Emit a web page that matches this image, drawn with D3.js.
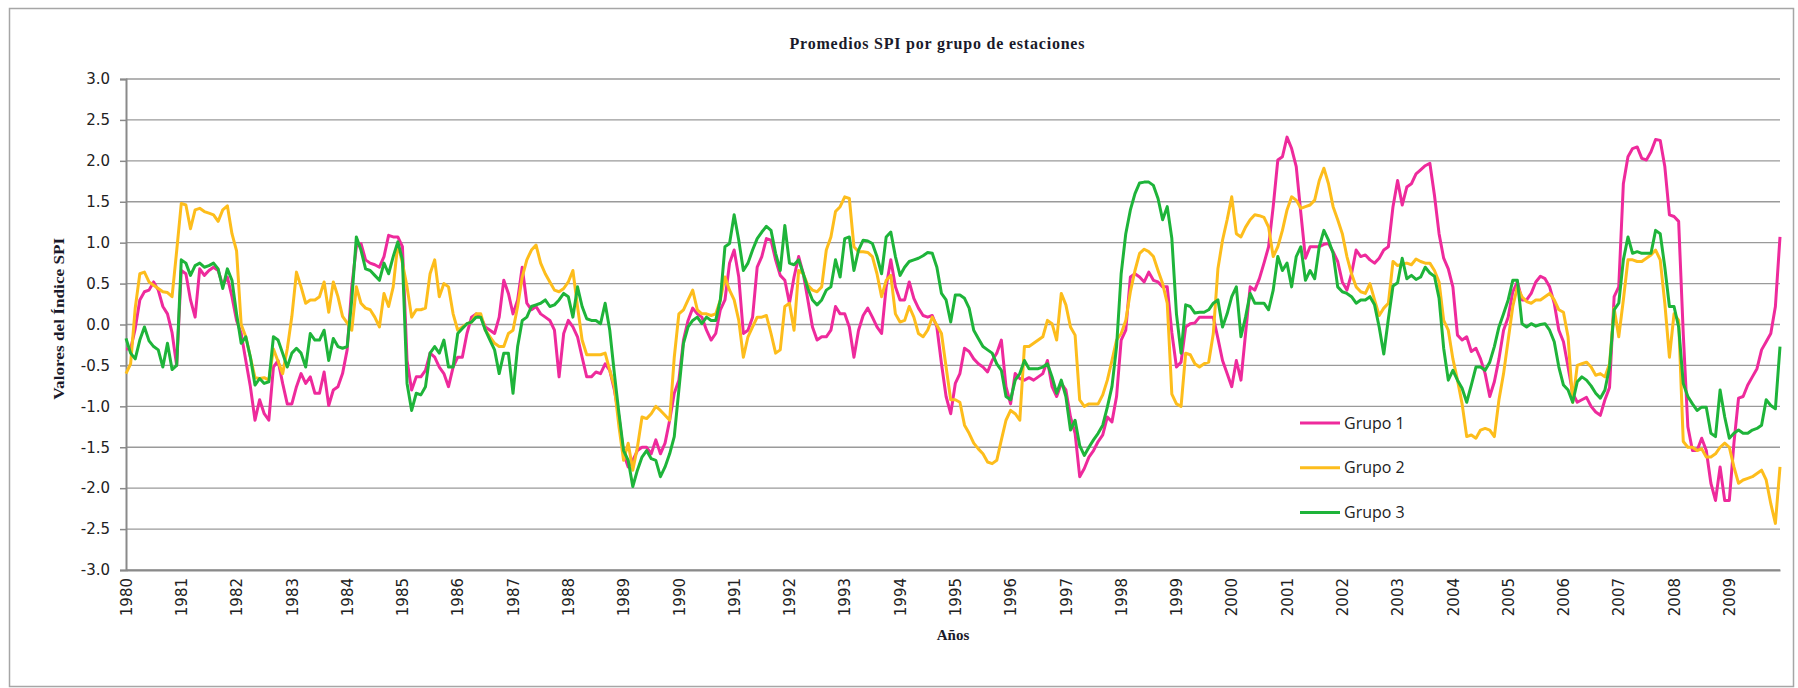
<!DOCTYPE html>
<html>
<head>
<meta charset="utf-8">
<script src="https://cdn.jsdelivr.net/npm/d3@7"></script>
<style>
  body { margin: 0; background: #ffffff; }
  #chart { width: 1798px; height: 688px; }
</style>
</head>
<body>
<div id="chart"></div>
<script>

// monthly SPI means, Jan 1980 .. Dec 2009 (one row per year)
var grupo1 = [
  -0.30, -0.30, -0.05, 0.30, 0.40, 0.42, 0.52, 0.42, 0.22, 0.13, -0.10, -0.50,
  0.66, 0.62, 0.30, 0.09, 0.68, 0.60, 0.66, 0.70, 0.66, 0.48, 0.58, 0.34,
  0.05, -0.11, -0.44, -0.76, -1.17, -0.92, -1.09, -1.17, -0.52, -0.44, -0.72, -0.97,
  -0.97, -0.76, -0.60, -0.72, -0.64, -0.84, -0.84, -0.58, -0.99, -0.80, -0.76, -0.60,
  -0.31, 0.46, 0.95, 0.99, 0.79, 0.75, 0.73, 0.70, 0.83, 1.09, 1.07, 1.07,
  0.95, -0.44, -0.80, -0.64, -0.64, -0.56, -0.35, -0.40, -0.52, -0.60, -0.76, -0.52,
  -0.40, -0.40, -0.11, 0.09, 0.13, 0.09, -0.03, -0.07, -0.11, 0.09, 0.54, 0.38,
  0.13, 0.30, 0.70, 0.26, 0.18, 0.22, 0.13, 0.09, 0.05, -0.07, -0.64, -0.11,
  0.05, -0.03, -0.15, -0.40, -0.64, -0.64, -0.58, -0.60, -0.48, -0.56, -0.80, -1.13,
  -1.58, -1.74, -1.66, -1.54, -1.50, -1.50, -1.58, -1.41, -1.58, -1.45, -1.17, -0.84,
  -0.68, -0.19, 0.05, 0.20, 0.13, 0.09, -0.07, -0.19, -0.11, 0.18, 0.30, 0.75,
  0.91, 0.58, -0.11, -0.07, 0.09, 0.70, 0.83, 1.05, 1.03, 0.79, 0.60, 0.54,
  0.26, 0.58, 0.83, 0.62, 0.30, -0.03, -0.19, -0.15, -0.15, -0.07, 0.22, 0.13,
  0.13, -0.03, -0.40, -0.07, 0.11, 0.20, 0.09, -0.03, -0.11, 0.46, 0.79, 0.46,
  0.30, 0.30, 0.52, 0.32, 0.20, 0.11, 0.09, 0.11, -0.03, -0.48, -0.88, -1.09,
  -0.72, -0.60, -0.29, -0.33, -0.42, -0.48, -0.52, -0.58, -0.44, -0.35, -0.19, -0.76,
  -0.97, -0.60, -0.66, -0.68, -0.65, -0.68, -0.64, -0.60, -0.44, -0.76, -0.88, -0.72,
  -0.80, -1.13, -1.33, -1.86, -1.76, -1.62, -1.54, -1.43, -1.35, -1.13, -1.19, -0.88,
  -0.19, -0.07, 0.58, 0.62, 0.58, 0.52, 0.64, 0.54, 0.52, 0.46, 0.46, -0.10,
  -0.52, -0.46, -0.03, 0.01, 0.02, 0.09, 0.09, 0.09, 0.09, -0.17, -0.44, -0.60,
  -0.76, -0.44, -0.68, -0.11, 0.46, 0.42, 0.56, 0.75, 0.95, 1.44, 2.01, 2.05,
  2.29, 2.15, 1.93, 1.36, 0.81, 0.95, 0.95, 0.95, 0.98, 0.99, 0.89, 0.77,
  0.52, 0.42, 0.62, 0.91, 0.83, 0.85, 0.79, 0.75, 0.81, 0.91, 0.95, 1.44,
  1.76, 1.46, 1.68, 1.72, 1.84, 1.89, 1.94, 1.97, 1.58, 1.11, 0.81, 0.68,
  0.46, -0.13, -0.19, -0.15, -0.33, -0.29, -0.42, -0.60, -0.88, -0.70, -0.42, -0.07,
  0.09, 0.40, 0.52, 0.30, 0.30, 0.38, 0.52, 0.59, 0.56, 0.46, 0.26, -0.07,
  -0.21, -0.52, -0.84, -0.95, -0.92, -0.89, -1.00, -1.07, -1.11, -0.92, -0.77, 0.34,
  0.46, 1.72, 2.05, 2.15, 2.17, 2.03, 2.01, 2.11, 2.26, 2.25, 1.93, 1.34,
  1.32, 1.26, -0.11, -1.25, -1.54, -1.54, -1.39, -1.54, -1.94, -2.15, -1.74, -2.15,
  -2.15, -1.45, -0.90, -0.88, -0.74, -0.64, -0.54, -0.31, -0.21, -0.11, 0.22, 1.07
];

var grupo2 = [
  -0.60, -0.48, 0.20, 0.62, 0.64, 0.52, 0.48, 0.44, 0.40, 0.39, 0.34, 0.90,
  1.48, 1.46, 1.17, 1.40, 1.42, 1.38, 1.36, 1.34, 1.26, 1.40, 1.45, 1.11,
  0.90, 0.00, -0.15, -0.40, -0.65, -0.66, -0.65, -0.68, -0.30, -0.45, -0.60, -0.30,
  0.10, 0.64, 0.46, 0.26, 0.30, 0.30, 0.34, 0.52, 0.15, 0.52, 0.34, 0.10,
  0.02, -0.07, 0.46, 0.26, 0.20, 0.18, 0.09, -0.03, 0.38, 0.22, 0.46, 0.99,
  0.75, 0.46, 0.09, 0.18, 0.18, 0.20, 0.62, 0.79, 0.34, 0.50, 0.46, 0.13,
  -0.07, -0.03, 0.01, 0.03, 0.13, 0.13, -0.07, -0.15, -0.23, -0.27, -0.27, -0.11,
  -0.07, 0.22, 0.58, 0.79, 0.91, 0.97, 0.75, 0.62, 0.52, 0.42, 0.40, 0.44,
  0.52, 0.66, 0.22, -0.19, -0.37, -0.37, -0.37, -0.37, -0.35, -0.56, -0.76, -1.25,
  -1.66, -1.45, -1.78, -1.50, -1.13, -1.15, -1.09, -1.00, -1.05, -1.11, -1.17, -0.40,
  0.13, 0.18, 0.30, 0.42, 0.18, 0.13, 0.13, 0.11, 0.13, 0.30, 0.58, 0.42,
  0.30, 0.05, -0.40, -0.15, -0.03, 0.09, 0.09, 0.11, -0.11, -0.35, -0.31, 0.22,
  0.26, -0.07, 0.66, 0.62, 0.48, 0.42, 0.40, 0.46, 0.91, 1.07, 1.38, 1.44,
  1.56, 1.54, 0.95, 0.89, 0.89, 0.88, 0.83, 0.62, 0.34, 0.54, 0.60, 0.13,
  0.03, 0.05, 0.22, 0.09, -0.11, -0.15, -0.07, 0.09, -0.01, -0.11, -0.52, -0.92,
  -0.92, -0.95, -1.23, -1.33, -1.45, -1.52, -1.58, -1.68, -1.70, -1.66, -1.41, -1.17,
  -1.05, -1.09, -1.17, -0.27, -0.27, -0.23, -0.19, -0.15, 0.05, 0.01, -0.19, 0.38,
  0.24, -0.03, -0.13, -0.92, -1.00, -0.97, -0.97, -0.97, -0.86, -0.68, -0.44, -0.19,
  -0.11, 0.05, 0.40, 0.66, 0.87, 0.92, 0.89, 0.83, 0.66, 0.50, 0.26, -0.85,
  -0.97, -1.00, -0.35, -0.37, -0.48, -0.52, -0.48, -0.46, -0.11, 0.68, 1.03, 1.28,
  1.56, 1.11, 1.07, 1.19, 1.28, 1.34, 1.33, 1.31, 1.19, 0.83, 0.95, 1.15,
  1.40, 1.56, 1.52, 1.42, 1.44, 1.46, 1.52, 1.76, 1.91, 1.72, 1.44, 1.28,
  1.11, 0.83, 0.62, 0.46, 0.40, 0.38, 0.50, 0.30, 0.11, 0.20, 0.26, 0.77,
  0.72, 0.74, 0.75, 0.73, 0.80, 0.77, 0.75, 0.75, 0.66, 0.52, 0.05, -0.07,
  -0.42, -0.68, -0.97, -1.37, -1.35, -1.39, -1.29, -1.27, -1.29, -1.37, -0.92, -0.60,
  -0.19, 0.22, 0.46, 0.34, 0.28, 0.26, 0.30, 0.30, 0.34, 0.38, 0.30, 0.18,
  0.15, -0.15, -0.95, -0.50, -0.48, -0.46, -0.52, -0.62, -0.60, -0.64, -0.48, 0.20,
  -0.15, 0.30, 0.79, 0.79, 0.77, 0.77, 0.81, 0.85, 0.91, 0.79, 0.26, -0.40,
  0.13, 0.05, -1.43, -1.50, -1.50, -1.54, -1.52, -1.62, -1.62, -1.58, -1.50, -1.45,
  -1.50, -1.74, -1.94, -1.90, -1.88, -1.86, -1.82, -1.78, -1.90, -2.19, -2.43, -1.74
];

var grupo3 = [
  -0.17, -0.35, -0.42, -0.19, -0.03, -0.20, -0.27, -0.31, -0.52, -0.23, -0.55, -0.50,
  0.79, 0.75, 0.60, 0.72, 0.75, 0.70, 0.72, 0.75, 0.68, 0.44, 0.68, 0.54,
  0.13, -0.23, -0.15, -0.40, -0.74, -0.66, -0.72, -0.70, -0.15, -0.19, -0.35, -0.52,
  -0.35, -0.29, -0.35, -0.52, -0.11, -0.19, -0.19, -0.07, -0.44, -0.17, -0.27, -0.29,
  -0.27, 0.30, 1.07, 0.91, 0.68, 0.66, 0.60, 0.54, 0.75, 0.62, 0.83, 1.01,
  0.79, -0.72, -1.05, -0.84, -0.86, -0.76, -0.35, -0.27, -0.35, -0.19, -0.52, -0.52,
  -0.11, -0.05, 0.01, 0.03, 0.09, 0.09, -0.07, -0.19, -0.31, -0.60, -0.35, -0.35,
  -0.84, -0.27, 0.05, 0.09, 0.22, 0.24, 0.26, 0.30, 0.22, 0.24, 0.30, 0.38,
  0.34, 0.09, 0.46, 0.22, 0.07, 0.05, 0.05, 0.01, 0.26, -0.07, -0.60, -1.09,
  -1.54, -1.66, -1.98, -1.78, -1.62, -1.54, -1.64, -1.66, -1.86, -1.74, -1.58, -1.37,
  -0.80, -0.23, -0.03, 0.05, 0.09, 0.01, 0.09, 0.05, 0.05, 0.30, 0.95, 0.99,
  1.34, 1.03, 0.66, 0.75, 0.91, 1.05, 1.13, 1.20, 1.15, 0.87, 0.66, 1.21,
  0.75, 0.73, 0.79, 0.62, 0.44, 0.30, 0.24, 0.30, 0.42, 0.46, 0.79, 0.58,
  1.05, 1.07, 0.66, 0.91, 1.03, 1.02, 0.99, 0.83, 0.62, 1.07, 1.13, 0.83,
  0.60, 0.70, 0.77, 0.79, 0.81, 0.84, 0.88, 0.87, 0.70, 0.38, 0.30, 0.03,
  0.36, 0.36, 0.32, 0.20, -0.07, -0.17, -0.27, -0.31, -0.35, -0.48, -0.56, -0.88,
  -0.92, -0.68, -0.60, -0.44, -0.54, -0.54, -0.54, -0.52, -0.48, -0.64, -0.84, -0.68,
  -0.88, -1.29, -1.17, -1.48, -1.60, -1.50, -1.41, -1.33, -1.23, -1.01, -0.76, -0.27,
  0.62, 1.11, 1.40, 1.60, 1.73, 1.74, 1.74, 1.70, 1.54, 1.28, 1.44, 1.05,
  0.13, -0.35, 0.24, 0.22, 0.14, 0.15, 0.15, 0.18, 0.26, 0.30, -0.03, 0.13,
  0.34, 0.46, -0.15, 0.09, 0.38, 0.26, 0.26, 0.26, 0.18, 0.42, 0.83, 0.66,
  0.75, 0.46, 0.83, 0.95, 0.54, 0.66, 0.56, 0.95, 1.15, 1.03, 0.87, 0.46,
  0.40, 0.38, 0.34, 0.26, 0.30, 0.30, 0.34, 0.24, -0.03, -0.36, 0.07, 0.47,
  0.51, 0.81, 0.56, 0.60, 0.55, 0.58, 0.70, 0.63, 0.59, 0.32, -0.29, -0.68,
  -0.56, -0.68, -0.78, -0.95, -0.74, -0.52, -0.52, -0.56, -0.46, -0.27, -0.03, 0.13,
  0.30, 0.54, 0.54, 0.01, -0.03, 0.01, -0.02, 0.00, 0.01, -0.07, -0.21, -0.52,
  -0.74, -0.80, -0.95, -0.70, -0.64, -0.68, -0.75, -0.84, -0.90, -0.80, -0.52, 0.18,
  0.26, 0.79, 1.07, 0.87, 0.89, 0.87, 0.87, 0.87, 1.15, 1.11, 0.70, 0.22,
  0.22, -0.03, -0.72, -0.88, -0.97, -1.05, -1.01, -1.01, -1.33, -1.37, -0.80, -1.13,
  -1.39, -1.33, -1.29, -1.33, -1.33, -1.29, -1.27, -1.23, -0.92, -0.99, -1.03, -0.27
];

var years = d3.range(1980, 2010);
var yTicks = d3.range(-3, 3.01, 0.5);

var series = [
    { name: "Grupo 1", values: grupo1, color: "#ee2a9c" },
    { name: "Grupo 2", values: grupo2, color: "#fdbd1c" },
    { name: "Grupo 3", values: grupo3, color: "#1eb43a" }
];

var W = 1798, H = 688;
var margin = { left: 126, right: 18, top: 79, bottom: 118 };

var svg = d3.select("#chart")
    .append("svg")
    .attr("width", W)
    .attr("height", H);

// chart frame
svg.append("rect")
    .attr("x", 9.5).attr("y", 8.5)
    .attr("width", W - 14).attr("height", H - 10)
    .attr("fill", "#fff")
    .attr("stroke", "#a6a6a6")
    .attr("stroke-width", 1.5);

var x = d3.scaleLinear()
    .domain([0, grupo1.length - 1])
    .range([margin.left, W - margin.right]);

var y = d3.scaleLinear()
    .domain([-3, 3])
    .range([H - margin.bottom, margin.top]);

// horizontal gridlines
svg.append("g")
    .selectAll("line")
    .data(yTicks)
    .enter()
    .append("line")
    .attr("x1", x(0)).attr("x2", x(grupo1.length - 1))
    .attr("y1", function (d) { return y(d); })
    .attr("y2", function (d) { return y(d); })
    .attr("stroke", "#9a9a9a")
    .attr("stroke-width", 1.4);

// Y axis (plain hyphen for negatives, as in the original)
var fmt = d3.format(".1f");
var yaxis = svg.append("g")
    .attr("transform", "translate(" + margin.left + ",0)")
    .call(d3.axisLeft(y)
        .tickValues(yTicks)
        .tickFormat(function (d) { return fmt(d).replace("\u2212", "-"); })
        .tickSize(6)
        .tickPadding(10));

yaxis.selectAll("line").style("stroke", "#8a8a8a").style("stroke-width", 1.5);
yaxis.select("path").style("stroke", "#8a8a8a").style("stroke-width", 2);
yaxis.selectAll("text")
    .style("font", "15px 'DejaVu Sans'")
    .style("fill", "#222");

// X axis, one label per year
var xaxis = svg.append("g")
    .attr("transform", "translate(0," + y(-3) + ")")
    .call(d3.axisBottom(x)
        .tickValues(years.map(function (d, i) { return i * 12; }))
        .tickFormat(function (d) { return years[d / 12]; })
        .tickSize(0));

xaxis.select("path").style("stroke", "#8a8a8a").style("stroke-width", 2);
xaxis.selectAll("text")
    .style("font", "15px 'DejaVu Sans'")
    .style("fill", "#222")
    .attr("transform", "rotate(-90)")
    .attr("text-anchor", "end")
    .attr("x", -8)
    .attr("y", 0)
    .attr("dy", "0.35em");

// the lines
var line = d3.line()
    .x(function (d, i) { return x(i); })
    .y(function (d) { return y(d); });

series.forEach(function (s) {
    svg.append("path")
        .datum(s.values)
        .attr("fill", "none")
        .attr("stroke", s.color)
        .attr("stroke-width", 3)
        .attr("stroke-linejoin", "round")
        .attr("d", line);
});

// titles
svg.append("text")
    .attr("x", 937).attr("y", 49)
    .attr("text-anchor", "middle")
    .attr("textLength", 295)
    .attr("lengthAdjust", "spacing")
    .style("font", "bold 16px 'Liberation Serif'")
    .style("fill", "#1a1a2a")
    .text("Promedios SPI por grupo de estaciones");

svg.append("text")
    .attr("transform", "translate(64," + y(0.07) + ") rotate(-90)")
    .attr("text-anchor", "middle")
    .attr("textLength", 162)
    .attr("lengthAdjust", "spacingAndGlyphs")
    .style("font", "bold 15px 'Liberation Serif'")
    .style("fill", "#1a1a2a")
    .text("Valores del Índice SPI");

svg.append("text")
    .attr("x", (x(0) + x(grupo1.length - 1)) / 2).attr("y", 640)
    .attr("text-anchor", "middle")
    .style("font", "bold 15px 'Liberation Serif'")
    .style("fill", "#1a1a2a")
    .text("Años");

// legend
var legend = svg.selectAll(".legend")
    .data(series)
    .enter()
    .append("g")
    .attr("class", "legend")
    .attr("transform", function (d, i) { return "translate(1300," + (423 + i * 44.7) + ")"; });

legend.append("line")
    .attr("x1", 0).attr("x2", 40)
    .attr("stroke", function (d) { return d.color; })
    .attr("stroke-width", 3);

legend.append("text")
    .attr("x", 44).attr("dy", "0.35em")
    .style("font", "16px 'Open Sans'")
    .style("fill", "#222")
    .text(function (d) { return d.name; });

</script>
</body>
</html>
